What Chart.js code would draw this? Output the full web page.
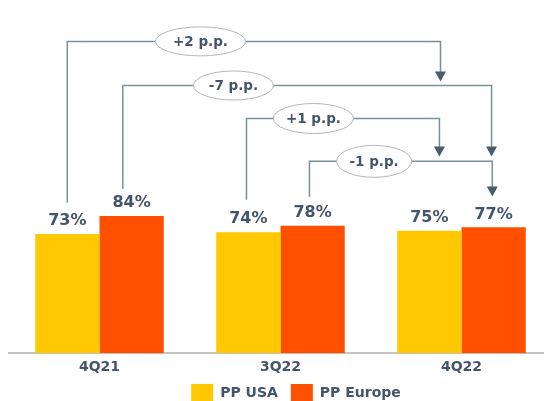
<!DOCTYPE html>
<html>
<head>
<meta charset="utf-8">
<script src="https://cdn.jsdelivr.net/npm/chart.js@4.4.0/dist/chart.umd.min.js"></script>
<style>
  html, body { margin: 0; padding: 0; background: #fff; overflow: hidden; }
  /* the source chart runs a few pixels past the right edge, so the canvas is wider than the window */
  #wrap { width: 552px; height: 401px; position: relative; }
</style>
</head>
<body>
<div id="wrap"><canvas id="bar_chart"></canvas></div>
<script>
var quarters = ['4Q21', '3Q22', '4Q22'];
var usaValues = [73, 74, 75];
var europeValues = [84, 78, 77];
var seriesNames = ['PP USA', 'PP Europe'];
var deltaLabels = ['+2 p.p.', '-7 p.p.', '+1 p.p.', '-1 p.p.'];

// connector routing: x in category units, y in % units of the value axis
var connectors = [
    { x0: -0.178, x1: 1.884, yFrom: 92,    yLevel: 190.8, yTo: 166.3, xLabel: 0.558, rx: 45,   ry: 14.5 },
    { x0: 0.129,  x1: 2.166, yFrom: 100.4, yLevel: 163.8, yTo: 120.4, xLabel: 0.74,  rx: 40,   ry: 14.5 },
    { x0: 0.812,  x1: 1.878, yFrom: 93.9,  yLevel: 143.6, yTo: 120.4, xLabel: 1.182, rx: 40,   ry: 15 },
    { x0: 1.16,   x1: 2.17,  yFrom: 95.7,  yLevel: 117.4, yTo: 95.9,  xLabel: 1.517, rx: 37.5, ry: 16 }
];

var textColor = '#44546a';
var barColors = ['#ffc800', '#ff5000'];

Chart.defaults.font.family = 'DejaVu Sans';

var overlay = {
    id: 'overlay',
    afterDatasetsDraw: function (chart) {
        var ctx = chart.ctx;
        var xs = chart.scales.x, ys = chart.scales.y;
        ctx.save();

        // value labels
        ctx.font = 'bold 16px "DejaVu Sans"';
        ctx.fillStyle = textColor;
        ctx.textAlign = 'center';
        ctx.textBaseline = 'middle';
        chart.data.datasets.forEach(function (ds, di) {
            chart.getDatasetMeta(di).data.forEach(function (bar, i) {
                ctx.fillText(ds.data[i] + '%', bar.x, bar.y - 13);
            });
        });

        // connectors
        connectors.forEach(function (c, k) {
            var xa = xs.getPixelForValue(c.x0), xb = xs.getPixelForValue(c.x1);
            var ya = ys.getPixelForValue(c.yFrom), yl = ys.getPixelForValue(c.yLevel), yt = ys.getPixelForValue(c.yTo);
            ctx.strokeStyle = '#7a8f9a';
            ctx.lineWidth = 1.5;
            ctx.beginPath();
            ctx.moveTo(xa, ya);
            ctx.lineTo(xa, yl);
            ctx.lineTo(xb, yl);
            ctx.lineTo(xb, yt - 9);
            ctx.stroke();
            ctx.fillStyle = '#455e6a';
            ctx.beginPath();
            ctx.moveTo(xb - 5.5, yt - 10);
            ctx.lineTo(xb + 5.5, yt - 10);
            ctx.lineTo(xb, yt);
            ctx.closePath();
            ctx.fill();

            var xc = xs.getPixelForValue(c.xLabel);
            ctx.beginPath();
            ctx.ellipse(xc, yl, c.rx, c.ry, 0, 0, Math.PI * 2);
            ctx.fillStyle = '#fff';
            ctx.fill();
            ctx.strokeStyle = '#b4b4b4';
            ctx.lineWidth = 1;
            ctx.stroke();
            ctx.font = 'bold 13.5px "DejaVu Sans"';
            ctx.fillStyle = textColor;
            ctx.fillText(deltaLabels[k], xc, yl + 1);
        });

        // legend
        ctx.font = 'bold 14px "DejaVu Sans"';
        ctx.textAlign = 'left';
        var total = 0;
        seriesNames.forEach(function (n, i) {
            total += 22 + 7 + ctx.measureText(n).width + (i ? 0 : 13);
        });
        var x = 296 - total / 2;
        seriesNames.forEach(function (n, i) {
            ctx.fillStyle = barColors[i];
            ctx.fillRect(x, 384, 22, 18);
            x += 29;
            ctx.fillStyle = textColor;
            ctx.fillText(n, x, 393);
            x += ctx.measureText(n).width + 13;
        });
        ctx.restore();
    }
};

new Chart(document.getElementById('bar_chart').getContext('2d'), {
    type: 'bar',
    data: {
        labels: quarters,
        datasets: [{
            label: seriesNames[0],
            data: usaValues,
            backgroundColor: barColors[0]
        }, {
            label: seriesNames[1],
            data: europeValues,
            backgroundColor: barColors[1]
        }]
    },
    options: {
        responsive: true,
        maintainAspectRatio: false,
        animation: false,
        layout: { padding: { top: 10, left: 9, right: 0, bottom: 19 } },
        categoryPercentage: 0.71,
        barPercentage: 1,
        plugins: { legend: { display: false }, tooltip: { enabled: false } },
        scales: {
            x: {
                grid: { display: false, drawTicks: false },
                border: { display: true, color: '#c4c4c4', width: 2 },
                ticks: { color: textColor, padding: 6, font: { size: 14, weight: 'bold' } }
            },
            y: { display: false, min: 0, max: 210 }
        }
    },
    plugins: [overlay]
});
</script>
</body>
</html>
